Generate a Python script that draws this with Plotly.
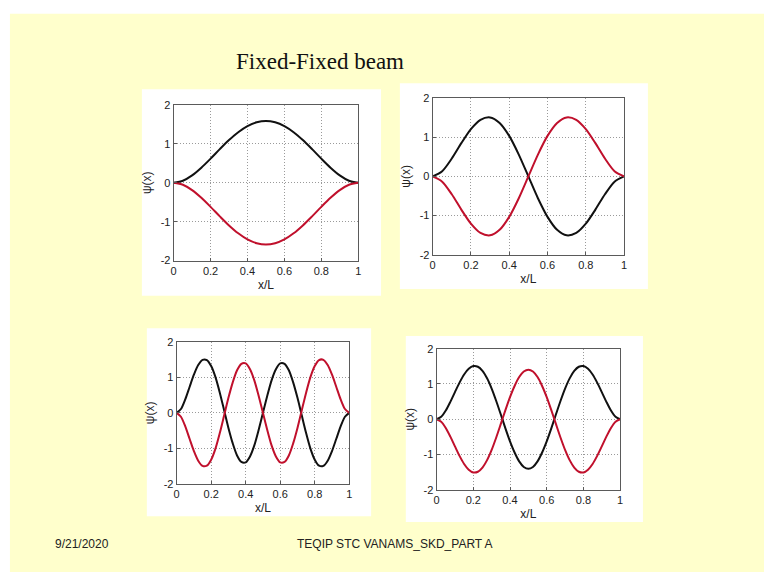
import plotly.graph_objects as go

W, H = 767, 578

# ---- sample positions along the beam (x/L) ----
x_coarse = [0.0, 0.05, 0.1, 0.15, 0.2, 0.25, 0.3, 0.35, 0.4, 0.45, 0.5,
            0.55, 0.6, 0.65, 0.7, 0.75, 0.8, 0.85, 0.9, 0.95, 1.0]
x_fine = [0.0, 0.025, 0.05, 0.075, 0.1, 0.125, 0.15, 0.175, 0.2, 0.225, 0.25,
          0.275, 0.3, 0.325, 0.35, 0.375, 0.4, 0.425, 0.45, 0.475, 0.5,
          0.525, 0.55, 0.575, 0.6, 0.625, 0.65, 0.675, 0.7, 0.725, 0.75,
          0.775, 0.8, 0.825, 0.85, 0.875, 0.9, 0.925, 0.95, 0.975, 1.0]

# ---- mode shapes psi(x) ----
mode1_black = [0, 0.052, 0.189, 0.387, 0.619, 0.863, 1.096, 1.299, 1.456, 1.554, 1.588,
               1.554, 1.456, 1.299, 1.096, 0.863, 0.619, 0.387, 0.189, 0.052, 0]
mode1_red = [0, -0.052, -0.189, -0.387, -0.619, -0.863, -1.096, -1.299, -1.456, -1.554, -1.588,
             -1.554, -1.456, -1.299, -1.096, -0.863, -0.619, -0.387, -0.189, -0.052, 0]

mode2_black = [0, 0.134, 0.456, 0.848, 1.206, 1.444, 1.505, 1.365, 1.034, 0.557, 0,
               -0.557, -1.034, -1.365, -1.505, -1.444, -1.206, -0.848, -0.456, -0.134, 0]
mode2_red = [0, -0.134, -0.456, -0.848, -1.206, -1.444, -1.505, -1.365, -1.034, -0.557, 0,
             0.557, 1.034, 1.365, 1.505, 1.444, 1.206, 0.848, 0.456, 0.134, 0]

mode4_black = [0, 0.110, 0.382, 0.730, 1.075, 1.347, 1.495, 1.489, 1.319, 1.006, 0.570,
               0.076, -0.423, -0.860, -1.199, -1.382, -1.394, -1.228, -0.917, -0.483, 0,
               0.483, 0.917, 1.228, 1.394, 1.382, 1.199, 0.860, 0.423, -0.076, -0.570,
               -1.006, -1.319, -1.489, -1.495, -1.347, -1.075, -0.730, -0.382, -0.110, 0]
mode4_red = [0, -0.110, -0.382, -0.730, -1.075, -1.347, -1.495, -1.489, -1.319, -1.006, -0.570,
             -0.076, 0.423, 0.860, 1.199, 1.382, 1.394, 1.228, 0.917, 0.483, 0,
             -0.483, -0.917, -1.228, -1.394, -1.382, -1.199, -0.860, -0.423, 0.076, 0.570,
             1.006, 1.319, 1.489, 1.495, 1.347, 1.075, 0.730, 0.382, 0.110, 0]

mode3_black = [0, 0.069, 0.247, 0.494, 0.770, 1.039, 1.268, 1.430, 1.508, 1.489, 1.371,
               1.160, 0.869, 0.517, 0.133, -0.259, -0.628, -0.944, -1.196, -1.354, -1.406,
               -1.354, -1.196, -0.944, -0.628, -0.259, 0.133, 0.517, 0.869, 1.160, 1.371,
               1.489, 1.508, 1.430, 1.268, 1.039, 0.770, 0.494, 0.247, 0.069, 0]
mode3_red = [0, -0.069, -0.247, -0.494, -0.770, -1.039, -1.268, -1.430, -1.508, -1.489, -1.371,
             -1.160, -0.869, -0.517, -0.133, 0.259, 0.628, 0.944, 1.196, 1.354, 1.406,
             1.354, 1.196, 0.944, 0.628, 0.259, -0.133, -0.517, -0.869, -1.160, -1.371,
             -1.489, -1.508, -1.430, -1.268, -1.039, -0.770, -0.494, -0.247, -0.069, 0]

x_ticks = [0, 0.2, 0.4, 0.6, 0.8, 1]
x_tick_text = ["0", "0.2", "0.4", "0.6", "0.8", "1"]
y_ticks = [-2, -1, 0, 1, 2]
y_tick_text = ["-2", "-1", "0", "1", "2"]

title_text = "Fixed-Fixed beam"
footer_date = "9/21/2020"
footer_text = "TEQIP STC VANAMS_SKD_PART A"

BLACK = "#111111"
RED = "#C0102C"
SLIDE = "#FFFFCC"
SANS = "Liberation Sans, Arial, sans-serif"

# panel layout in pixels: (white card box, axes box)  -> (x0, y0, x1, y1)
panels = [
    dict(card=(140, 85, 381, 296), ax=(172, 101, 358, 260),
         x=x_coarse, black=mode1_black, red=mode1_red),
    dict(card=(400, 79, 650, 289), ax=(433, 94, 626, 254),
         x=x_coarse, black=mode2_black, red=mode2_red),
    dict(card=(145, 329, 371, 521), ax=(175, 343, 349, 488),
         x=x_fine, black=mode4_black, red=mode4_red),
    dict(card=(406, 337, 645, 527), ax=(437, 350, 622, 494),
         x=x_fine, black=mode3_black, red=mode3_red),
]


def px(x):
    return x / W


def py(y):
    return 1 - y / H


fig = go.Figure()
shapes = [
    # slide body
    dict(type="rect", xref="paper", yref="paper", x0=px(7), x1=1.0, y0=0.0, y1=py(8),
         fillcolor=SLIDE, line=dict(width=0), layer="below"),
]
annotations = []

for i, p in enumerate(panels, start=1):
    sfx = "" if i == 1 else str(i)
    cx0, cy0, cx1, cy1 = p["card"]
    shapes.append(dict(type="rect", xref="paper", yref="paper",
                       x0=px(cx0), x1=px(cx1), y0=py(cy1), y1=py(cy0),
                       fillcolor="white", line=dict(width=0), layer="below"))
    ax0, ay0, ax1, ay1 = p["ax"]
    axis_common = dict(showline=True, mirror=True, linecolor="#5a5a5a", linewidth=1,
                       showgrid=True, gridcolor="#9a9a9a", griddash="1px,2px", gridwidth=1,
                       zeroline=False, ticks="inside", ticklen=3, tickcolor="#5a5a5a",
                       tickfont=dict(family=SANS, size=11, color="#222222"),
                       fixedrange=True)
    fig.layout["xaxis" + sfx] = dict(
        axis_common, domain=[px(ax0), px(ax1)], anchor="y" + sfx, range=[0, 1],
        tickvals=x_ticks, ticktext=x_tick_text,
        title=dict(text="x/L", standoff=4,
                   font=dict(family=SANS, size=12, color="#222222")))
    fig.layout["yaxis" + sfx] = dict(
        axis_common, domain=[py(ay1), py(ay0)], anchor="x" + sfx, range=[-2, 2],
        tickvals=y_ticks, ticktext=y_tick_text,
        title=dict(text="ψ(x)", standoff=6,
                   font=dict(family=SANS, size=12, color="#222222")))
    xa = "x" + sfx
    ya = "y" + sfx
    fig.add_trace(go.Scatter(x=p["x"], y=p["black"], mode="lines", xaxis=xa, yaxis=ya,
                             line=dict(color=BLACK, width=2, shape="spline", smoothing=0.8),
                             showlegend=False, hoverinfo="skip"))
    fig.add_trace(go.Scatter(x=p["x"], y=p["red"], mode="lines", xaxis=xa, yaxis=ya,
                             line=dict(color=RED, width=2, shape="spline", smoothing=0.8),
                             showlegend=False, hoverinfo="skip"))

annotations.append(dict(text=title_text, xref="paper", yref="paper",
                        x=px(319), y=py(57), xanchor="center", yanchor="middle",
                        showarrow=False,
                        font=dict(family="Liberation Serif, Times New Roman, serif",
                                  size=23, color="#111111")))
annotations.append(dict(text=footer_date, xref="paper", yref="paper",
                        x=px(80), y=py(549), xanchor="center", yanchor="middle",
                        showarrow=False,
                        font=dict(family=SANS, size=12, color="#222222")))
annotations.append(dict(text=footer_text, xref="paper", yref="paper",
                        x=px(395), y=py(549), xanchor="center", yanchor="middle",
                        showarrow=False,
                        font=dict(family=SANS, size=12, color="#222222")))

fig.update_layout(width=W, height=H, margin=dict(l=0, r=0, t=0, b=0),
                  paper_bgcolor="white", plot_bgcolor="white",
                  shapes=shapes, annotations=annotations, showlegend=False)

fig.write_html("out.html")
